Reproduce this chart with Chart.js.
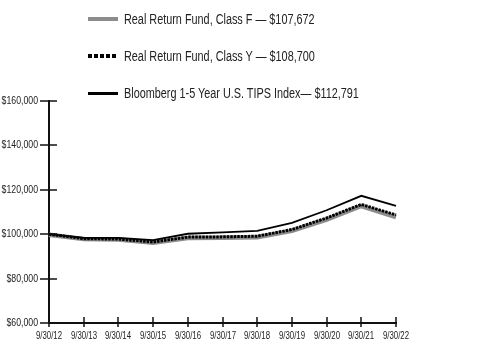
<!DOCTYPE html>
<html>
<head>
<meta charset="utf-8">
<script src="https://cdn.jsdelivr.net/npm/chart.js@4/dist/chart.umd.min.js"></script>
<style>
  html, body { margin: 0; padding: 0; background: #fff; }
  #wrap { position: relative; width: 480px; height: 360px; }
  #legend { position: absolute; left: 0; top: 0; font-family: "Liberation Sans", Arial, sans-serif; font-size: 14px; color: #222; }
  .item { position: absolute; left: 88px; height: 0; }
  .swatch { position: absolute; left: 0; width: 30px; }
  .txt { position: absolute; left: 36px; top: -9px; line-height: 18px; white-space: nowrap; transform: scaleX(0.775); transform-origin: 0 50%; }
</style>
</head>
<body>
<div id="wrap">
  <canvas id="growthChart" width="480" height="360"></canvas>
  <div id="legend"></div>
</div>
<script>
// Growth of $100,000 data
const dates = ['9/30/12', '9/30/13', '9/30/14', '9/30/15', '9/30/16', '9/30/17', '9/30/18', '9/30/19', '9/30/20', '9/30/21', '9/30/22'];
const classF = [99800, 97800, 97600, 96100, 98300, 98400, 98600, 101500, 106600, 112700, 107672];
const classY = [100000, 98000, 97800, 96500, 98700, 98800, 99100, 102100, 107300, 113400, 108700];
const tipsIndex = [100000, 98300, 98300, 97300, 100200, 100800, 101500, 105100, 110800, 117300, 112791];
const yTicks = [60000, 80000, 100000, 120000, 140000, 160000];

const seriesNames = [
  'Real Return Fund, Class F \u2014 $107,672',
  'Real Return Fund, Class Y \u2014 $108,700',
  'Bloomberg 1-5 Year U.S. TIPS Index\u2014 $112,791'
];

const fontFamily = '"Liberation Sans", Arial, sans-serif';

// crossing tick marks + narrow tick labels on both axes
const crossTicks = {
  id: 'crossTicks',
  afterDraw(chart) {
    const c = chart.ctx;
    const x = chart.scales.x, y = chart.scales.y;
    c.save();
    c.strokeStyle = '#111';
    c.fillStyle = '#222';
    c.lineWidth = 1.5;
    c.textBaseline = 'middle';
    yTicks.forEach(v => {
      const py = Math.round(y.getPixelForValue(v));
      c.beginPath();
      c.moveTo(x.left - 9, py);
      c.lineTo(x.left + 8, py);
      c.stroke();
      c.save();
      c.translate(x.left - 11, py);
      c.scale(0.76, 1);
      c.font = '11.5px ' + fontFamily;
      c.textAlign = 'right';
      c.fillText('$' + v.toLocaleString('en-US'), 0, 0);
      c.restore();
    });
    dates.forEach((d, i) => {
      const px = Math.round(x.getPixelForValue(i));
      c.beginPath();
      c.moveTo(px, y.bottom - 6);
      c.lineTo(px, y.bottom + 4);
      c.stroke();
      c.save();
      c.translate(px, y.bottom + 13);
      c.scale(0.78, 1);
      c.font = '10px ' + fontFamily;
      c.textAlign = 'center';
      c.fillText(d, 0, 0);
      c.restore();
    });
    c.restore();
  }
};

const ctx = document.getElementById('growthChart').getContext('2d');
const growthChart = new Chart(ctx, {
  type: 'line',
  data: {
    labels: dates,
    datasets: [{
      label: seriesNames[0],
      data: classF,
      borderColor: '#8c8c8c',
      borderWidth: 4.5,
      order: 2
    }, {
      label: seriesNames[1],
      data: classY,
      borderColor: '#000',
      borderWidth: 3,
      borderDash: [2.5, 1],
      order: 1
    }, {
      label: seriesNames[2],
      data: tipsIndex,
      borderColor: '#000',
      borderWidth: 1.8,
      order: 0
    }]
  },
  options: {
    responsive: false,
    animation: false,
    layout: { padding: { left: 0, top: 101, right: 84, bottom: 0 } },
    elements: { point: { radius: 0 }, line: { tension: 0 } },
    plugins: { legend: { display: false }, tooltip: { enabled: false } },
    scales: {
      x: {
        offset: false,
        grid: { display: false },
        border: { color: '#111', width: 2 },
        ticks: { display: false, autoSkip: false },
        afterFit: s => { s.height = 37; }
      },
      y: {
        min: 60000,
        max: 160000,
        grid: { display: false },
        border: { color: '#111', width: 2 },
        afterBuildTicks: s => { s.ticks = yTicks.map(v => ({ value: v })); },
        ticks: { display: false },
        afterFit: s => { s.width = 49; }
      }
    }
  },
  plugins: [crossTicks]
});

// Legend (stacked entries above the plot)
const legendTops = [19, 56, 93];
const swatchStyles = [
  'border-top: 4px solid #8c8c8c; top: -2px;',
  'height: 4px; top: -2px; background: repeating-linear-gradient(to right, #000 0 4px, transparent 4px 6px);',
  'border-top: 3px solid #000; top: -1.5px;'
];
const legend = document.getElementById('legend');
seriesNames.forEach((name, i) => {
  const item = document.createElement('div');
  item.className = 'item';
  item.style.top = legendTops[i] + 'px';
  item.innerHTML = '<div class="swatch" style="' + swatchStyles[i] + '"></div><span class="txt">' + name + '</span>';
  legend.appendChild(item);
});
</script>
</body>
</html>
